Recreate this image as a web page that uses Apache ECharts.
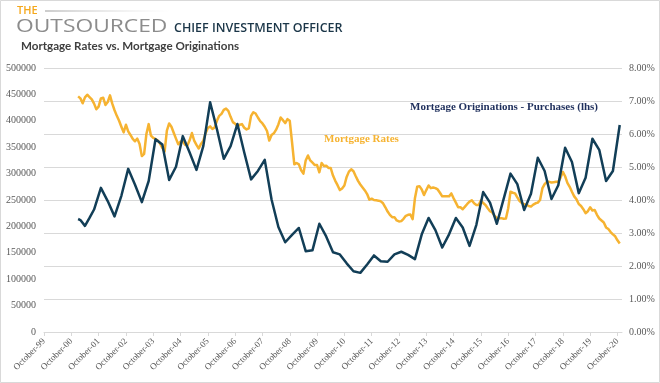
<!DOCTYPE html>
<html>
<head>
<meta charset="utf-8">
<script src="https://cdn.jsdelivr.net/npm/echarts@6/dist/echarts.min.js"></script>
<style>
html,body{margin:0;padding:0;background:#fff;}
#chart{width:660px;height:383px;}
</style>
</head>
<body>
<div id="chart"></div>
<script>
// ---- Data ----
const xTickYears = ['99','00','01','02','03','04','05','06','07','08','09','10','11','12','13','14','15','16','17','18','19','20'];
const leftTicks = [0, 500000, 50000];   // min, max, step (Originations)
const rightTicks = [0, 8, 1];           // min, max, step (Rates, %)

// Monthly 30y mortgage rate (%), starting January 2001
const rateStart = '2001-01';
const rateValues = [
  7.14, 7.08, 6.93, 7.11, 7.19, 7.12, 7.05, 6.92, 6.75, 6.83,
  7.08, 7.10, 6.88, 6.97, 7.17, 6.92, 6.72, 6.55, 6.40, 6.22,
  6.05, 6.28, 6.08, 5.97, 5.85, 5.78, 5.86, 5.70, 5.33, 5.40,
  6.00, 6.30, 5.95, 5.88, 5.85, 5.80, 5.71, 5.58, 5.47, 6.10,
  6.32, 6.22, 6.04, 5.86, 5.69, 5.77, 5.77, 5.67, 5.65, 5.81,
  6.03, 5.80, 5.67, 5.56, 5.70, 5.80, 6.02, 6.18, 6.23, 6.15,
  6.20, 6.40, 6.55, 6.61, 6.73, 6.77, 6.70, 6.52, 6.36, 6.31,
  6.23, 6.28, 6.30, 6.19, 6.14, 6.17, 6.55, 6.66, 6.62, 6.50,
  6.39, 6.32, 6.22, 6.09, 5.80, 5.97, 6.02, 6.13, 6.29, 6.50,
  6.42, 6.33, 6.45, 6.40, 5.75, 5.08, 5.12, 5.08, 4.90, 4.80,
  5.20, 5.35, 5.20, 5.13, 5.06, 5.06, 4.84, 5.12, 5.03, 5.04,
  4.97, 4.97, 4.74, 4.58, 4.45, 4.30, 4.35, 4.44, 4.70, 4.86,
  4.93, 4.87, 4.72, 4.58, 4.47, 4.38, 4.29, 4.18, 4.01, 4.04,
  4.00, 3.99, 3.98, 3.96, 3.90, 3.78, 3.65, 3.55, 3.48, 3.48,
  3.38, 3.35, 3.36, 3.43, 3.52, 3.55, 3.56, 3.42, 4.05, 4.40,
  4.42, 4.32, 4.15, 4.30, 4.44, 4.36, 4.38, 4.36, 4.32, 4.22,
  4.11, 4.11, 4.11, 4.11, 4.20, 4.05, 3.92, 3.78, 3.78, 3.72,
  3.80, 3.88, 3.95, 3.99, 3.90, 3.85, 3.85, 3.99, 3.91, 3.85,
  3.75, 3.66, 3.62, 3.52, 3.46, 3.45, 3.45, 3.43, 3.44, 3.75,
  4.25, 4.22, 4.20, 4.08, 3.97, 3.91, 3.87, 3.85, 3.82, 3.80,
  3.86, 3.90, 3.92, 4.00, 4.35, 4.48, 4.55, 4.55, 4.53, 4.54,
  4.55, 4.55, 4.68, 4.85, 4.72, 4.52, 4.40, 4.25, 4.11, 4.02,
  3.88, 3.82, 3.72, 3.60, 3.66, 3.78, 3.68, 3.70, 3.55, 3.44,
  3.38, 3.32, 3.17, 3.12, 3.03, 2.96, 2.90, 2.78, 2.68
];

// Mortgage originations - purchases
const origDates = [
  '2001-01','2001-02','2001-04','2001-06','2001-08','2001-11',
  '2002-02','2002-05','2002-08','2002-11','2003-02','2003-05','2003-08','2003-11',
  '2004-02','2004-05','2004-08','2004-11','2005-02','2005-05','2005-08','2005-11',
  '2006-02','2006-05','2006-08','2006-11','2007-02','2007-05','2007-08','2007-11',
  '2008-02','2008-05','2008-08','2008-11','2009-02','2009-05','2009-08','2009-11',
  '2010-02','2010-05','2010-08','2010-11','2011-02','2011-05','2011-08','2011-11',
  '2012-02','2012-05','2012-08','2012-11','2013-02','2013-05','2013-08','2013-11',
  '2014-02','2014-05','2014-08','2014-11','2015-02','2015-05','2015-08','2015-11',
  '2016-02','2016-05','2016-08','2016-11','2017-02','2017-05','2017-08','2017-11',
  '2018-02','2018-05','2018-08','2018-11','2019-02','2019-05','2019-08','2019-11',
  '2020-02','2020-05','2020-08','2020-11'
];
const origValues = [
  214000, 212000, 201000, 216000, 232000, 273000,
  248000, 219000, 258000, 309000, 279000, 246000, 286000, 365000,
  355000, 288000, 313000, 371000, 340000, 307000, 352000, 435000,
  384000, 328000, 352000, 394000, 340000, 289000, 305000, 326000,
  251000, 199000, 170000, 184000, 197000, 153000, 155000, 205000,
  181000, 151000, 147000, 130000, 115000, 112000, 128000, 145000,
  134000, 133000, 147000, 152000, 146000, 138000, 185000, 216000,
  193000, 160000, 185000, 216000, 198000, 163000, 203000, 265000,
  245000, 205000, 252000, 300000, 280000, 231000, 262000, 330000,
  305000, 252000, 278000, 349000, 322000, 263000, 292000, 366000,
  345000, 286000, 305000, 392000
];

const seriesNames = ['Mortgage Rates', 'Mortgage Originations - Purchases (lhs)'];

// ---- helpers ----
// months since October 1999
function monthIndex(s) {
  const [y, m] = s.split('-').map(Number);
  return (y - 1999) * 12 + (m - 10);
}
const rate0 = monthIndex(rateStart);
const rateData = rateValues.map((v, k) => [rate0 + k, v]);
const origData = origDates.map((d, k) => [monthIndex(d), origValues[k]]);
const xTickValues = xTickYears.map((y, k) => k * 12);

const serif = '"Liberation Serif", "Times New Roman", serif';
const labelColor = '#595959';

const chart = echarts.init(document.getElementById('chart'), null, {renderer: 'canvas'});
chart.setOption({
  backgroundColor: '#fff',
  animation: false,
  grid: {left: 44, right: 38, top: 68, bottom: 51, containLabel: false},
  xAxis: {
    type: 'value', min: 0, max: 254,
    axisLine: {show: true, lineStyle: {color: '#d9d9d9', width: 1}},
    axisTick: {show: true, length: 4, lineStyle: {color: '#d9d9d9'}, customValues: xTickValues},
    axisLabel: {
      customValues: xTickValues,
      rotate: 45, margin: 8, fontSize: 9, fontFamily: serif, color: labelColor,
      formatter: v => 'October-' + xTickYears[Math.round(v / 12)]
    },
    splitLine: {show: false}
  },
  yAxis: [
    {
      type: 'value', min: leftTicks[0], max: leftTicks[1], interval: leftTicks[2],
      axisLine: {show: false}, axisTick: {show: false},
      axisLabel: {fontSize: 10, fontFamily: serif, color: labelColor, margin: 8,
        formatter: v => String(v)},
      splitLine: {show: false}
    },
    {
      type: 'value', min: rightTicks[0], max: rightTicks[1], interval: rightTicks[2],
      position: 'right',
      axisLine: {show: false}, axisTick: {show: false},
      axisLabel: {fontSize: 10, fontFamily: serif, color: labelColor, margin: 7,
        formatter: v => v.toFixed(2) + '%'},
      splitLine: {show: true, lineStyle: {color: '#d9d9d9', width: 1}}
    }
  ],
  series: [
    {
      name: seriesNames[0], type: 'line', yAxisIndex: 1, data: rateData,
      showSymbol: false, symbol: 'none',
      lineStyle: {color: '#F6B331', width: 2.5, join: 'round'}
    },
    {
      name: seriesNames[1], type: 'line', yAxisIndex: 0, data: origData,
      showSymbol: false, symbol: 'none',
      lineStyle: {color: '#123E57', width: 2.5, join: 'round'}
    }
  ],
  graphic: [
    {type: 'rect', shape: {x: 0.5, y: 0.5, width: 659, height: 382}, style: {fill: 'none', stroke: '#d9d9d9', lineWidth: 1}, silent: true},
    {type: 'text', x: 17, y: 5, style: {text: 'THE', fill: '#F5A81C', font: '600 11px "Open Sans", sans-serif'}},
    {type: 'rect', shape: {x: 45, y: 10.5, width: 125, height: 1},
      style: {fill: new echarts.graphic.LinearGradient(0, 0, 1, 0, [{offset: 0, color: '#9a9a9a'}, {offset: 1, color: 'rgba(200,200,200,0)'}])}},
    {type: 'text', x: 16, y: 17, scaleX: 1.2, style: {text: 'OUTSOURCED', fill: '#8C8C8C', font: '19px "Open Sans", sans-serif'}},
    {type: 'text', x: 174, y: 23, scaleX: 1.04, style: {text: 'CHIEF INVESTMENT OFFICER', fill: '#1B3648', font: '600 12px "Open Sans", sans-serif'}},
    {type: 'text', x: 21, y: 40, style: {text: 'Mortgage Rates vs. Mortgage Originations', fill: '#3F3F3F', font: 'bold 11.6px Lato, sans-serif'}},
    {type: 'text', x: 410, y: 102, style: {text: seriesNames[1], fill: '#1F2F5C', font: 'bold 11px ' + serif}},
    {type: 'text', x: 324, y: 134, style: {text: seriesNames[0], fill: '#F6B331', font: 'bold 11px ' + serif}}
  ]
});
</script>
</body>
</html>
